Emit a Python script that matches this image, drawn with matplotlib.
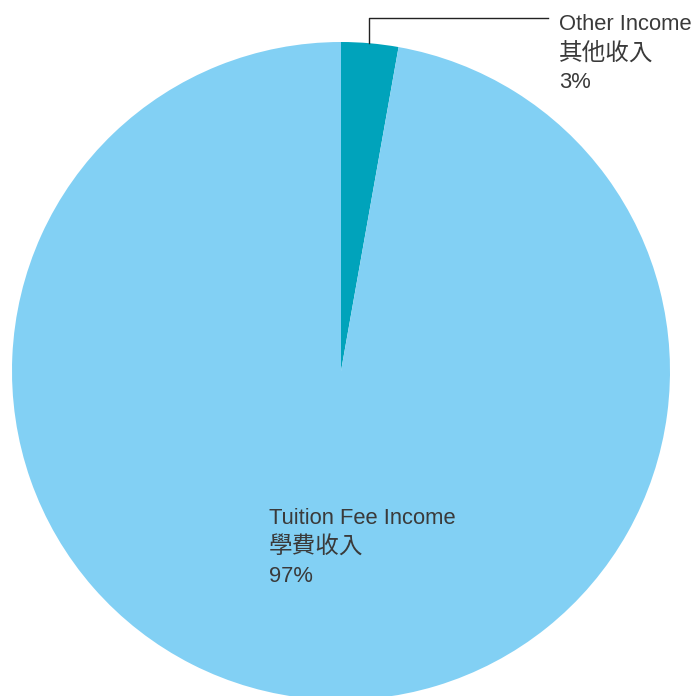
import matplotlib
matplotlib.use("Agg")
import matplotlib.pyplot as plt

labels_en = ["Other Income", "Tuition Fee Income"]
labels_zh = ["其他收入", "學費收入"]
values = [2.8, 97.2]
colors = ["#00A3BB", "#82D0F4"]

W, H = 700, 696
fig = plt.figure(figsize=(W / 100, H / 100), dpi=100)
ax = fig.add_axes([0, 0, 1, 1])

cx, cy, r = 341, H - 371, 329
ax.pie(values, colors=colors, startangle=90, counterclock=False,
       center=(cx, cy), radius=r, frame=True,
       wedgeprops=dict(linewidth=0))
ax.set_xlim(0, W)
ax.set_ylim(0, H)
ax.set_aspect("equal")
ax.axis("off")

fam_en = ["Liberation Sans", "DejaVu Sans"]
fam_zh = ["Noto Sans CJK TC", "DejaVu Sans"]
tc = "#3a3a3a"
fs_en = 15.8
fs_zh = 17
lh = 29.5

def block(x, ytop, i):
    lines = [(labels_en[i], fam_en, "normal", fs_en),
             (labels_zh[i], fam_zh, "light", fs_zh),
             (f"{values[i]:.0f}%", fam_en, "normal", fs_en)]
    for k, (s, fam, wt, fs) in enumerate(lines):
        ax.text(x - 1, H - (ytop + k * lh), s, fontsize=fs, family=fam,
                fontweight=wt, color=tc, va="center", ha="left")

# leader line for small slice
ax.plot([369, 369, 548], [H - 43, H - 18, H - 18], color="#222222", lw=1)
block(560, 24, 0)
block(270, 518, 1)

fig.savefig("out.png", dpi=100)
